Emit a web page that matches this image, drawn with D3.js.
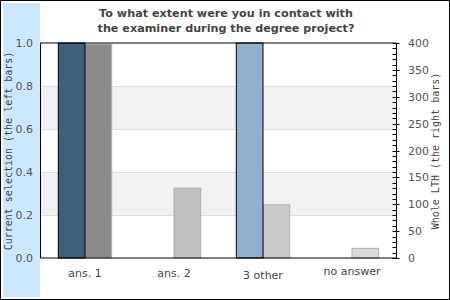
<!DOCTYPE html>
<html>
<head>
<meta charset="utf-8">
<script src="https://cdn.jsdelivr.net/npm/d3@7"></script>
<style>
  body { margin: 0; background: #fff; }
  svg { display: block; }
</style>
</head>
<body>
<div id="chart"></div>
<script>
// data
var categories = ['ans. 1', 'ans. 2', '3 other', 'no answer'];
var currentShare = [1.0, 0, 1.0, 0];      // left bars, left axis
var wholeCount = [398, 130, 99, 18];       // right bars, right axis
var leftTicks = [0, 0.2, 0.4, 0.6, 0.8, 1.0];
var rightTicks = [0, 50, 100, 150, 200, 250, 300, 350, 400];
var titleLines = ['To what extent were you in contact with', 'the examiner during the degree project?'];

var leftColors = ['#3f5f7b', '#3f5f7b', '#8fb1cd', '#8fb1cd'];
var rightColors = ['#8a8a8a', '#bfbfbf', '#cacaca', '#d9d9d9'];
var labelShift = [0, 0, 2, -2];

var W = 450, H = 300;
var plot = {left: 40.5, right: 396.5, top: 43, bottom: 258};

var svg = d3.select('#chart').append('svg')
  .attr('width', W).attr('height', H);

// outer frame and left strip
svg.append('rect').attr('x', 0.5).attr('y', 0.5).attr('width', W - 1).attr('height', H - 1)
  .attr('fill', '#fff').attr('stroke', '#000');
svg.append('rect').attr('x', 3).attr('y', 3).attr('width', 37).attr('height', 294)
  .attr('fill', '#cce8ff');

var x = d3.scaleBand().domain(categories)
  .range([plot.left, plot.right]).paddingInner(0.4).paddingOuter(0.2);
var yL = d3.scaleLinear().domain([0, 1]).range([plot.bottom, plot.top]);
var yR = d3.scaleLinear().domain([0, 400]).range([plot.bottom, plot.top]);

// alternating bands
var bands = d3.range(leftTicks.length - 1);
svg.selectAll('rect.band').data(bands).enter().append('rect')
  .attr('class', 'band')
  .attr('x', plot.left).attr('width', plot.right - plot.left)
  .attr('y', function(i){ return yL(leftTicks[i + 1]); })
  .attr('height', function(i){ return yL(leftTicks[i]) - yL(leftTicks[i + 1]); })
  .attr('fill', function(i){ return i % 2 === 1 ? '#f2f2f2' : '#fff'; });

svg.selectAll('line.grid').data(leftTicks.slice(1, -1)).enter().append('line')
  .attr('x1', plot.left).attr('x2', plot.right)
  .attr('y1', function(d){ return Math.round(yL(d)) + 0.5; })
  .attr('y2', function(d){ return Math.round(yL(d)) + 0.5; })
  .attr('stroke', '#dedede');

// bars
var half = x.bandwidth() / 2;
svg.selectAll('rect.right').data(wholeCount).enter().append('rect')
  .attr('x', function(d, i){ return x(categories[i]) + half; })
  .attr('width', half)
  .attr('y', function(d){ return yR(d); })
  .attr('height', function(d){ return plot.bottom - yR(d); })
  .attr('fill', function(d, i){ return rightColors[i]; })
  .attr('stroke', '#b0b0b0');

svg.selectAll('rect.left').data(currentShare).enter().append('rect')
  .attr('x', function(d, i){ return x(categories[i]); })
  .attr('width', half)
  .attr('y', function(d){ return yL(d); })
  .attr('height', function(d){ return plot.bottom - yL(d); })
  .attr('fill', function(d, i){ return leftColors[i]; })
  .attr('stroke', function(d){ return d > 0 ? '#000' : 'none'; });

// plot frame (left, top, bottom) and right axis
svg.append('path')
  .attr('d', 'M' + plot.right + ',' + plot.top + 'H' + plot.left + 'V' + plot.bottom + 'H' + plot.right + 'V' + plot.top)
  .attr('fill', 'none').attr('stroke', '#000');

var minor = d3.range(0, 401, 10);
svg.selectAll('line.minor').data(minor).enter().append('line')
  .attr('x1', plot.right - 4).attr('x2', function(d){ return d % 50 === 0 ? plot.right + 3 : plot.right; })
  .attr('y1', function(d){ return Math.round(yR(d)) + 0.5; })
  .attr('y2', function(d){ return Math.round(yR(d)) + 0.5; })
  .attr('stroke', '#000');

// tick labels
svg.selectAll('text.lt').data(leftTicks).enter().append('text')
  .attr('x', 33).attr('y', function(d){ return yL(d) + 4; })
  .attr('text-anchor', 'end')
  .attr('font-family', 'DejaVu Sans').attr('font-size', 11).attr('fill', '#555')
  .text(function(d){ return d.toFixed(1); });

svg.selectAll('text.rt').data(rightTicks).enter().append('text')
  .attr('x', 408).attr('y', function(d){ return yR(d) + 4; })
  .attr('font-family', 'DejaVu Sans').attr('font-size', 11).attr('fill', '#555')
  .text(function(d){ return d; });

svg.selectAll('text.cat').data(categories).enter().append('text')
  .attr('x', function(d){ return x(d) + half; })
  .attr('y', function(d, i){ return 277 + labelShift[i]; })
  .attr('text-anchor', 'middle')
  .attr('font-family', 'DejaVu Sans').attr('font-size', 11).attr('fill', '#444')
  .text(function(d){ return d; });

// axis titles
svg.append('text')
  .attr('transform', 'translate(12,151) rotate(-90)')
  .attr('text-anchor', 'middle')
  .attr('font-family', 'DejaVu Sans Mono').attr('font-size', 10).attr('fill', '#444')
  .text('Current selection (the left bars)');

svg.append('text')
  .attr('transform', 'translate(439,151) rotate(-90)')
  .attr('text-anchor', 'middle')
  .attr('font-family', 'DejaVu Sans Mono').attr('font-size', 10).attr('fill', '#444')
  .text('Whole LTH (the right bars)');

// title
svg.selectAll('text.title').data(titleLines).enter().append('text')
  .attr('x', 226).attr('y', function(d, i){ return 17 + i * 15; })
  .attr('text-anchor', 'middle')
  .attr('font-family', 'DejaVu Sans').attr('font-weight', 'bold')
  .attr('font-size', 11.2).attr('fill', '#444')
  .text(function(d){ return d; });
</script>
</body>
</html>
